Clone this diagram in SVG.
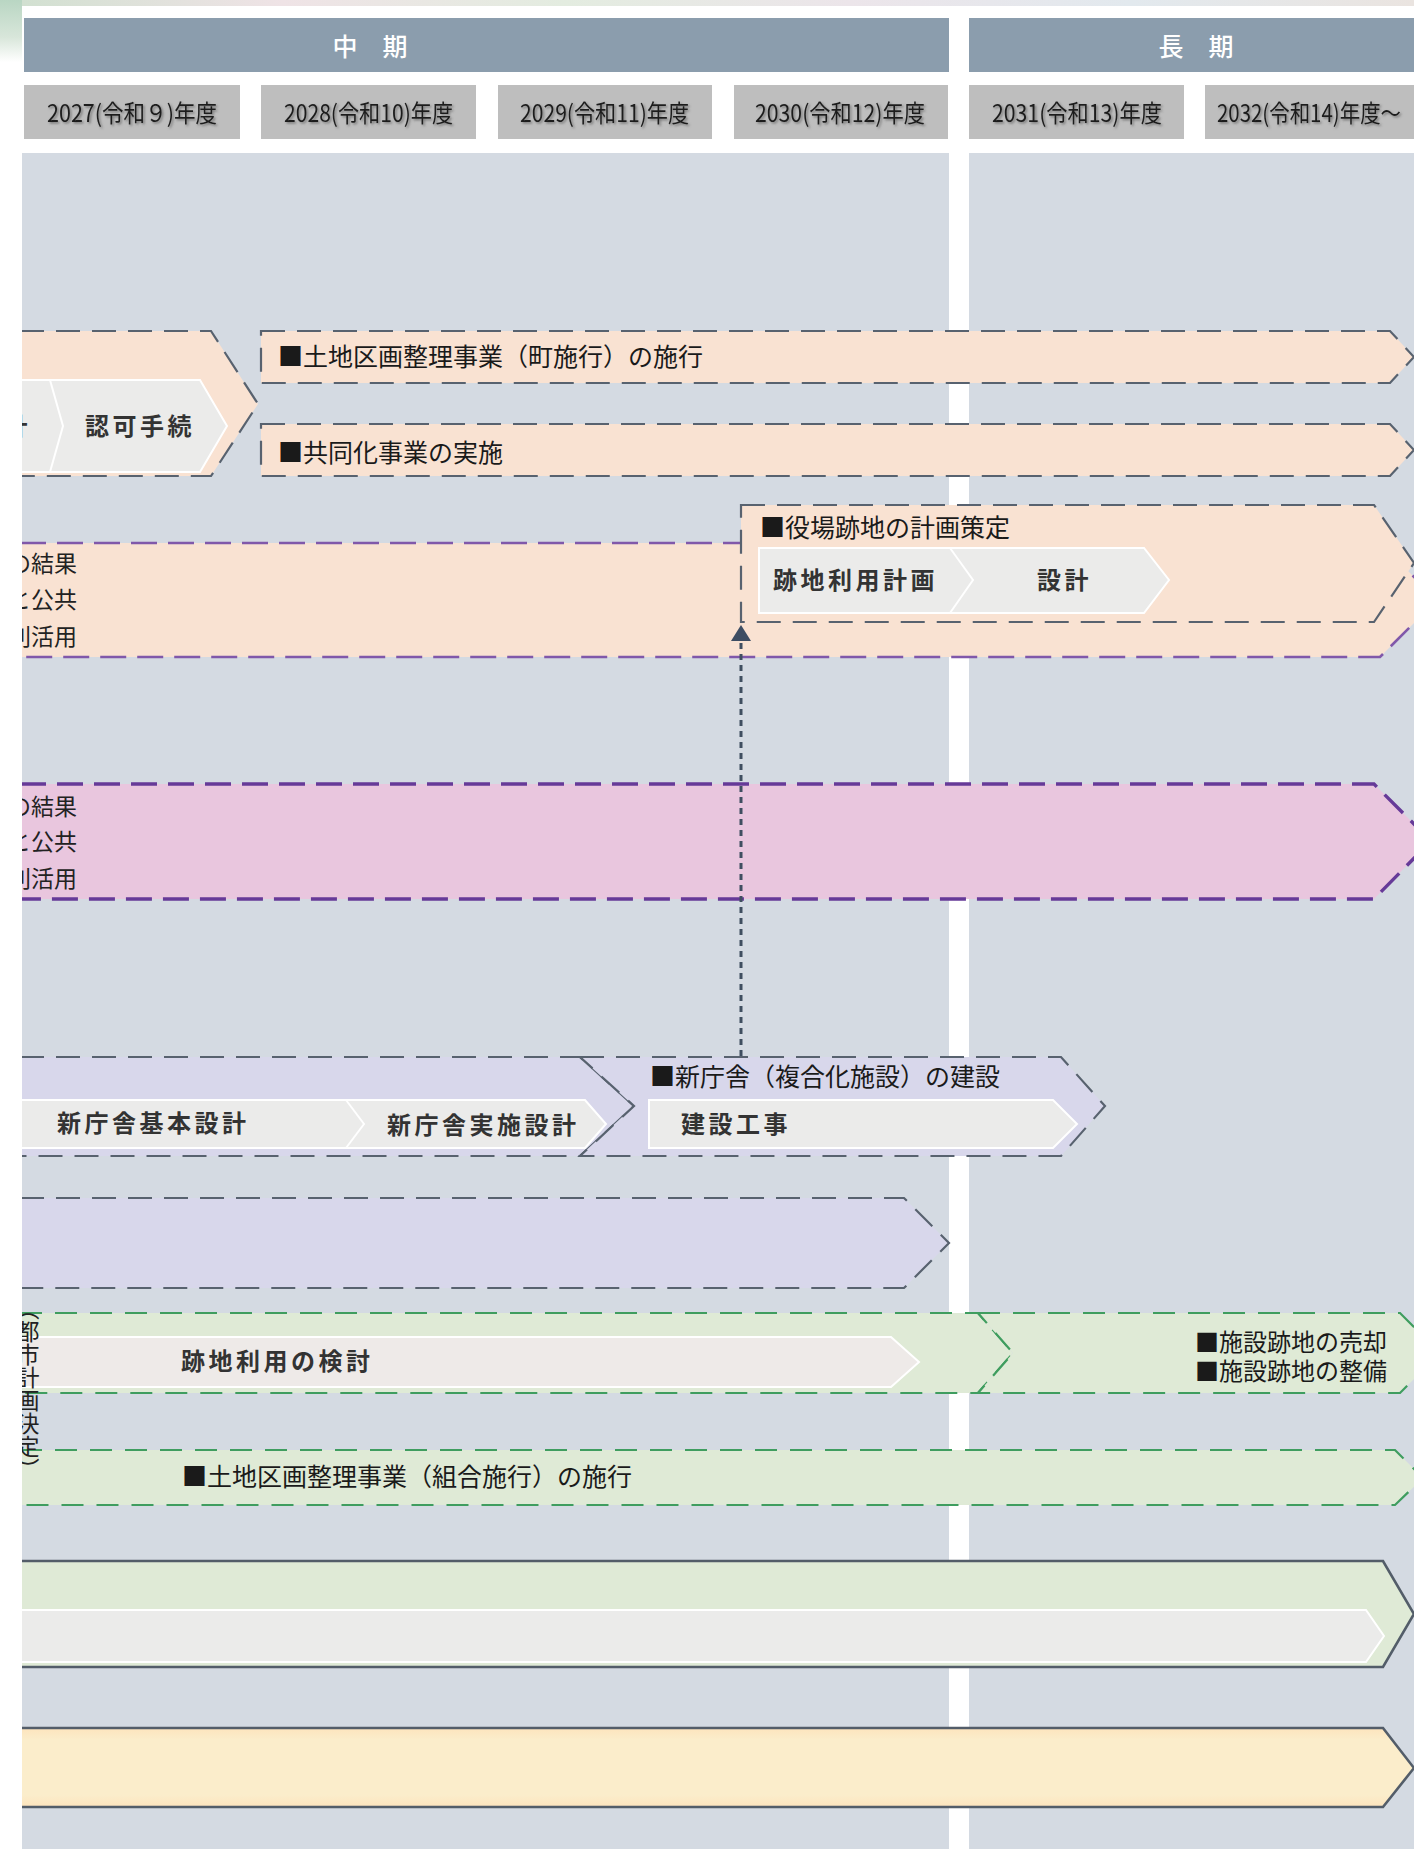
<svg xmlns="http://www.w3.org/2000/svg" width="1414" height="1849" viewBox="0 0 1414 1849">
<defs>
<style>
.hdr{fill:#8b9dad}
.yr{fill:#bebebe}
.yrt{font-family:"Noto Sans CJK JP","Liberation Sans",sans-serif;font-size:24px;fill:#1c1c1c;filter:url(#shadow)}
.ht{font-family:"Noto Sans CJK JP",sans-serif;font-size:25px;fill:#ffffff;font-weight:500}
.col{fill:#d4dae2}
.orange{fill:#f9e2d2}
.pink{fill:#e9c6de}
.lav{fill:#d8d7eb}
.green{fill:#dfead6}
.dg{stroke:#58626f;stroke-width:2.2;stroke-dasharray:24 12;stroke-linejoin:miter}
.dp{stroke:#8058aa;stroke-width:2.6;stroke-dasharray:26 11}
.dp2{stroke:#663a98;stroke-width:3.4;stroke-dasharray:26 11}
.dgr{stroke:#3f9d5f;stroke-width:2.2;stroke-dasharray:22 13}
.solid{stroke:#535d69;stroke-width:2.6}
.band{fill:#ebebea;stroke:#ffffff;stroke-width:2}
.band2{fill:#eeeae8;stroke:#ffffff;stroke-width:2}
.sep{fill:none;stroke:#ffffff;stroke-width:2}
.title{font-family:"Noto Sans CJK JP",sans-serif;font-size:25px;fill:#1a1a1a}
.title2{font-family:"Noto Sans CJK JP",sans-serif;font-size:24px;fill:#1a1a1a}
.label{font-family:"Noto Sans CJK JP",sans-serif;font-size:24px;font-weight:700;letter-spacing:3.5px;fill:#333333}
.side{font-family:"Noto Sans CJK JP",sans-serif;font-size:23px;fill:#222222}
</style>
<filter id="shadow" x="-5%" y="-20%" width="110%" height="150%">
<feDropShadow dx="1.5" dy="1.5" stdDeviation="0.8" flood-color="#555555" flood-opacity="0.7"/>
</filter>
<clipPath id="clipMain"><rect x="22" y="0" width="1392" height="1849"/></clipPath>
<linearGradient id="mapg" x1="0" y1="0" x2="1" y2="0">
<stop offset="0" stop-color="#cfe0cf"/>
<stop offset="0.2" stop-color="#efe3e6"/>
<stop offset="0.4" stop-color="#e3ece0"/>
<stop offset="0.6" stop-color="#ece5ea"/>
<stop offset="0.8" stop-color="#e2e9ee"/>
<stop offset="1" stop-color="#eae4e0"/>
</linearGradient>
<linearGradient id="mapl" x1="0" y1="0" x2="0" y2="1">
<stop offset="0" stop-color="#b9d6c3"/>
<stop offset="0.6" stop-color="#d8e6da"/>
<stop offset="1" stop-color="#ffffff"/>
</linearGradient>
<linearGradient id="yel" x1="0" y1="0" x2="0" y2="1">
<stop offset="0" stop-color="#fde4bd"/>
<stop offset="0.15" stop-color="#fbedcb"/>
<stop offset="0.85" stop-color="#fbedcb"/>
<stop offset="1" stop-color="#fde4bd"/>
</linearGradient>
</defs>

<rect x="0" y="0" width="1414" height="1849" fill="#ffffff"/>
<rect x="0" y="0" width="1414" height="6" fill="url(#mapg)"/>
<rect x="0" y="0" width="22" height="62" fill="url(#mapl)"/>

<g id="header">
<rect class="hdr" x="24" y="18" width="925" height="54"/>
<text class="ht" x="370" y="56" text-anchor="middle">中　期</text>
<rect class="hdr" x="969" y="18" width="445" height="54"/>
<text class="ht" x="1196" y="56" text-anchor="middle">長　期</text>
</g>

<g id="years">
<rect class="yr" x="24" y="85" width="216" height="54"/>
<text class="yrt" x="47" y="122" textLength="170" lengthAdjust="spacingAndGlyphs">2027(令和９)年度</text>
<rect class="yr" x="261" y="85" width="215" height="54"/>
<text class="yrt" x="284" y="122" textLength="169" lengthAdjust="spacingAndGlyphs">2028(令和10)年度</text>
<rect class="yr" x="498" y="85" width="214" height="54"/>
<text class="yrt" x="520" y="122" textLength="169" lengthAdjust="spacingAndGlyphs">2029(令和11)年度</text>
<rect class="yr" x="734" y="85" width="214" height="54"/>
<text class="yrt" x="755" y="122" textLength="170" lengthAdjust="spacingAndGlyphs">2030(令和12)年度</text>
<rect class="yr" x="969" y="85" width="215" height="54"/>
<text class="yrt" x="992" y="122" textLength="170" lengthAdjust="spacingAndGlyphs">2031(令和13)年度</text>
<rect class="yr" x="1205" y="85" width="209" height="54"/>
<text class="yrt" x="1217" y="122" textLength="184" lengthAdjust="spacingAndGlyphs">2032(令和14)年度～</text>
</g>

<g id="columns">
<rect class="col" x="22" y="153" width="927" height="1696"/>
<rect class="col" x="969" y="153" width="445" height="1696"/>
</g>

<g clip-path="url(#clipMain)">

<g id="row1-approval">
<path class="orange dg" d="M20,331 L211,331 L258,404 L211,476 L20,476 Z"/>
<path class="band" d="M20,380 L200,380 L227,426 L200,472 L20,472 Z"/>
<path class="sep" d="M50,380 L63,426 L50,472"/>
<text class="label" x="31" y="435" text-anchor="end" letter-spacing="0">計</text>
<text class="label" x="85" y="435">認可手続</text>
</g>

<g id="row1-kukaku-town">
<path class="orange dg" d="M261,331 L1390,331 L1414,357 L1390,383 L261,383 Z"/>
<text class="title" x="278" y="366">■土地区画整理事業（町施行）の施行</text>
</g>

<g id="row1-kyodo">
<path class="orange dg" d="M261,424 L1390,424 L1414,450 L1390,476 L261,476 Z"/>
<text class="title" x="278" y="462">■共同化事業の実施</text>
</g>

<g id="row2-band">
<path class="orange dp" d="M20,543 L1380,543 L1437,600 L1380,657 L20,657 Z"/>
<text class="side" x="77" y="572" text-anchor="end">の結果</text>
<text class="side" x="77" y="608" text-anchor="end">と公共</text>
<text class="side" x="77" y="645" text-anchor="end">利活用</text>
</g>

<g id="row2-yakuba">
<path class="orange dg" d="M741,505 L1374,505 L1414,563 L1374,622 L741,622 Z"/>
<text class="title" x="760" y="537">■役場跡地の計画策定</text>
<path class="band" d="M759,548 L1144,548 L1169,580 L1144,613 L759,613 Z"/>
<path class="sep" d="M950,548 L973,580 L950,613"/>
<text class="label" x="773" y="589">跡地利用計画</text>
<text class="label" x="1037" y="589">設計</text>
</g>

<g id="row3-band">
<path class="pink dp2" d="M20,784 L1374,784 L1431,841 L1374,899 L20,899 Z"/>
<text class="side" x="77" y="815" text-anchor="end">の結果</text>
<text class="side" x="77" y="850" text-anchor="end">と公共</text>
<text class="side" x="77" y="887" text-anchor="end">利活用</text>
</g>

<g id="row4-design">
<path class="lav dg" d="M20,1057 L580,1057 L634,1106 L580,1156 L20,1156 Z"/>
<path class="band" d="M20,1100 L585,1100 L606,1124 L585,1148 L20,1148 Z"/>
<path class="sep" d="M346,1100 L364,1124 L346,1148"/>
<text class="label" x="57" y="1132" letter-spacing="3">新庁舎基本設計</text>
<text class="label" x="387" y="1134" letter-spacing="3">新庁舎実施設計</text>
</g>

<g id="row4-construction">
<path class="lav dg" d="M580,1057 L1061,1057 L1105,1106 L1061,1156 L580,1156 L634,1106 Z"/>
<text class="title" x="650" y="1086">■新庁舎（複合化施設）の建設</text>
<path class="band" d="M649,1100 L1053,1100 L1077,1124 L1053,1148 L649,1148 Z"/>
<text class="label" x="681" y="1133">建設工事</text>
</g>

<g id="row5">
<path class="lav dg" d="M20,1198 L904,1198 L949,1243 L904,1288 L20,1288 Z"/>
</g>

<g id="row6-study">
<path class="green dgr" d="M20,1313 L978,1313 L1013,1353 L978,1393 L20,1393 Z"/>
<path class="band2" d="M20,1337 L891,1337 L919,1362 L891,1387 L20,1387 Z"/>
<text class="label" x="181" y="1370">跡地利用の検討</text>
</g>

<g id="row6-sale">
<path class="green dgr" d="M978,1313 L1400,1313 L1440,1353 L1400,1393 L978,1393 L1013,1353 Z"/>
<text class="title2" text-anchor="end"><tspan x="1387" y="1351">■施設跡地の売却</tspan><tspan x="1387" y="1380">■施設跡地の整備</tspan></text>
</g>

<g id="row7-kukaku-union">
<path class="green dgr" d="M20,1450 L1395,1450 L1423,1478 L1395,1505 L20,1505 Z"/>
<text class="title" x="182" y="1486">■土地区画整理事業（組合施行）の施行</text>
</g>

<g id="city-plan-label">
<text class="side" x="28" y="1297" font-size="21.5" writing-mode="vertical-rl">（都市計画決定）</text>
</g>

<g id="row8">
<path class="green solid" d="M20,1561 L1383,1561 L1414,1614 L1383,1667 L20,1667 Z"/>
<path class="band" d="M20,1610 L1366,1610 L1384,1636 L1366,1662 L20,1662 Z"/>
</g>

<g id="row9">
<path class="solid" fill="url(#yel)" d="M20,1728 L1383,1728 L1414,1768 L1383,1807 L20,1807 Z"/>
</g>

</g>

<g id="connectors">
<line x1="741" y1="1056" x2="741" y2="642" stroke="#3f4e60" stroke-width="3" stroke-dasharray="6 5"/>
<path d="M741,625 L751,641 L731,641 Z" fill="#3d4d63"/>
</g>
</svg>
